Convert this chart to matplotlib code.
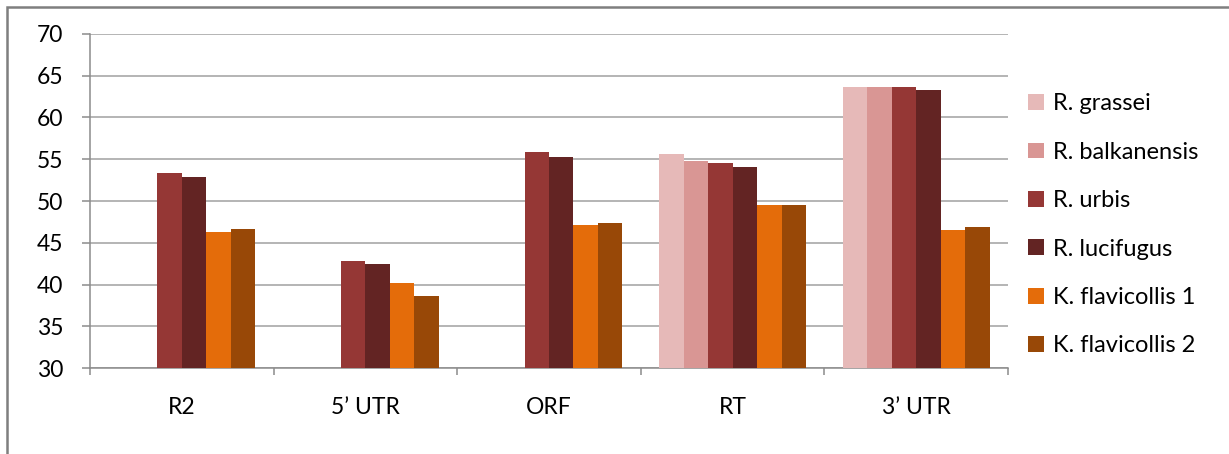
import matplotlib.pyplot as plt
import matplotlib.patches as mpatches
import numpy as np

plt.rcParams["font.family"] = ["Lato", "DejaVu Sans"]

regions = ["R2", "5\u2019 UTR", "ORF", "RT", "3\u2019 UTR"]
species = ["R. grassei", "R. balkanensis", "R. urbis", "R. lucifugus",
           "K. flavicollis 1", "K. flavicollis 2"]
colors = ["#E6B9B8", "#D99694", "#953735", "#632423", "#E46C0A", "#984807"]

# GC content per region; nan where no sequence is available
r_grassei = [np.nan, np.nan, np.nan, 55.6, 63.6]
r_balkanensis = [np.nan, np.nan, np.nan, 54.8, 63.6]
r_urbis = [53.4, 42.8, 55.9, 54.6, 63.6]
r_lucifugus = [52.9, 42.5, 55.3, 54.1, 63.3]
k_flavicollis_1 = [46.3, 40.2, 47.1, 49.5, 46.5]
k_flavicollis_2 = [46.7, 38.6, 47.4, 49.5, 46.9]
series = [r_grassei, r_balkanensis, r_urbis, r_lucifugus,
          k_flavicollis_1, k_flavicollis_2]

yticks = [30, 35, 40, 45, 50, 55, 60, 65, 70]

fig = plt.figure(figsize=(12.29, 4.54), dpi=100)
ax = fig.add_axes([0.0732, 0.1888, 0.7470, 0.7366])

x = np.arange(len(regions))
width = 1 / 7.5
for i, (name, vals, col) in enumerate(zip(species, series, colors)):
    ax.bar(x + (i - 2.5) * width, np.array(vals, dtype=float) - 30, width,
           bottom=30, color=col, label=name, zorder=3, linewidth=0)

ax.set_xlim(-0.5, len(regions) - 0.5)
ax.set_ylim(30, 70)
ax.set_yticks(yticks)
ax.set_yticklabels([str(v) for v in yticks])
ax.yaxis.grid(True, color="#A0A0A0", linewidth=1.1, zorder=0)

ax.set_xticks(x)
ax.set_xticklabels(regions)
ax.set_xticks(np.arange(len(regions) + 1) - 0.5, minor=True)
ax.tick_params(axis="x", which="major", length=0, pad=21, labelsize=16.5)
ax.tick_params(axis="x", which="minor", length=5, width=1.1, color="#8C8C8C", direction="out")
ax.tick_params(axis="y", length=6, width=1.1, color="#8C8C8C", pad=13, labelsize=16.5)

for side in ["top", "right"]:
    ax.spines[side].set_visible(False)
for side in ["left", "bottom"]:
    ax.spines[side].set_color("#8C8C8C")
    ax.spines[side].set_linewidth(1.1)

ax.legend(loc="upper left", bbox_to_anchor=(1.022, 0.822), frameon=False,
          fontsize=17, handlelength=0.65, handleheight=0.65, handletextpad=0.4,
          labelspacing=1.16, borderaxespad=0, borderpad=0)

# outer chart border
fig.patches.append(mpatches.Rectangle((7 / 1229, -0.2), 2, 1.2 - 7 / 454,
                                      transform=fig.transFigure, fill=False,
                                      edgecolor="#7F7F7F", linewidth=1.8))

fig.savefig("out.png", dpi=100)
